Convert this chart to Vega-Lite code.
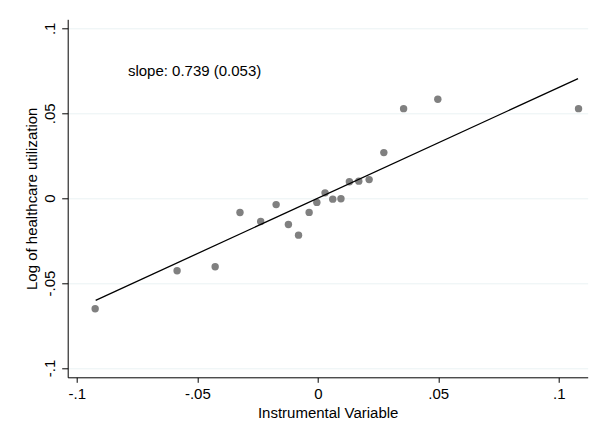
{
  "$schema": "https://vega.github.io/schema/vega-lite/v6.json",
  "width": 520,
  "height": 358,
  "autosize": {"type": "none"},
  "padding": {"left": 67.7, "top": 19.3, "right": 4.7, "bottom": 57.7},
  "background": "white",
  "config": {
    "view": {"stroke": null},
    "font": "Liberation Sans",
    "axis": {
      "labelFont": "Liberation Sans",
      "titleFont": "Liberation Sans",
      "labelFontSize": 15,
      "titleFontSize": 15,
      "titleFontWeight": "normal",
      "labelColor": "black",
      "titleColor": "black",
      "domainColor": "black",
      "tickColor": "black",
      "domainWidth": 1,
      "tickWidth": 1
    }
  },
  "datasets": {
    "points": [
      {"x": -0.0924, "y": -0.0651},
      {"x": -0.0584, "y": -0.0428},
      {"x": -0.0426, "y": -0.0404},
      {"x": -0.0323, "y": -0.0085},
      {"x": -0.0237, "y": -0.0138},
      {"x": -0.0173, "y": -0.0038},
      {"x": -0.0122, "y": -0.0155},
      {"x": -0.0080, "y": -0.0218},
      {"x": -0.0036, "y": -0.0084},
      {"x": -0.0004, "y": -0.0025},
      {"x": 0.0030, "y": 0.0031},
      {"x": 0.0062, "y": -0.0006},
      {"x": 0.0096, "y": -0.0004},
      {"x": 0.0131, "y": 0.0096},
      {"x": 0.0170, "y": 0.0100},
      {"x": 0.0213, "y": 0.0109},
      {"x": 0.0274, "y": 0.0268},
      {"x": 0.0356, "y": 0.0527},
      {"x": 0.0498, "y": 0.0582},
      {"x": 0.1082, "y": 0.0527}
    ],
    "fit": [
      {"x": -0.0922, "y": -0.0602},
      {"x": 0.1080, "y": 0.0704}
    ],
    "note": [
      {"x": -0.0788, "y": 0.0751, "label": "slope: 0.739 (0.053)"}
    ]
  },
  "layer": [
    {
      "data": {"name": "points"},
      "mark": {"type": "point", "filled": true, "color": "#808080", "opacity": 1, "size": 55, "strokeWidth": 0},
      "encoding": {
        "x": {
          "field": "x", "type": "quantitative",
          "scale": {"domain": [-0.1038, 0.112], "nice": false, "zero": false},
          "axis": {
            "title": "Instrumental Variable",
            "values": [-0.1, -0.05, 0, 0.05, 0.1],
            "grid": false,
            "tickSize": 5,
            "labelPadding": 4,
            "titlePadding": 4,
            "labelExpr": "datum.value < -0.07 ? '-.1' : datum.value < -0.02 ? '-.05' : datum.value < 0.02 ? '0' : datum.value < 0.07 ? '.05' : '.1'"
          }
        },
        "y": {
          "field": "y", "type": "quantitative",
          "scale": {"domain": [-0.1055, 0.1053], "nice": false, "zero": false},
          "axis": {
            "title": "Log of healthcare utilization",
            "values": [-0.1, -0.05, 0, 0.05, 0.1],
            "grid": true,
            "gridColor": "#eaf2f3",
            "gridWidth": 1,
            "tickSize": 6,
            "labelAngle": -90,
            "labelAlign": "center",
            "labelBaseline": "bottom",
            "labelPadding": 4,
            "titlePadding": 3,
            "labelExpr": "datum.value < -0.07 ? '-.1' : datum.value < -0.02 ? '-.05' : datum.value < 0.02 ? '0' : datum.value < 0.07 ? '.05' : '.1'"
          }
        }
      }
    },
    {
      "data": {"name": "fit"},
      "mark": {"type": "line", "color": "black", "strokeWidth": 1.3},
      "encoding": {
        "x": {"field": "x", "type": "quantitative"},
        "y": {"field": "y", "type": "quantitative"}
      }
    },
    {
      "data": {"name": "note"},
      "mark": {"type": "text", "align": "left", "baseline": "middle", "fontSize": 15, "font": "Liberation Sans", "color": "black"},
      "encoding": {
        "x": {"field": "x", "type": "quantitative"},
        "y": {"field": "y", "type": "quantitative"},
        "text": {"field": "label"}
      }
    }
  ]
}
